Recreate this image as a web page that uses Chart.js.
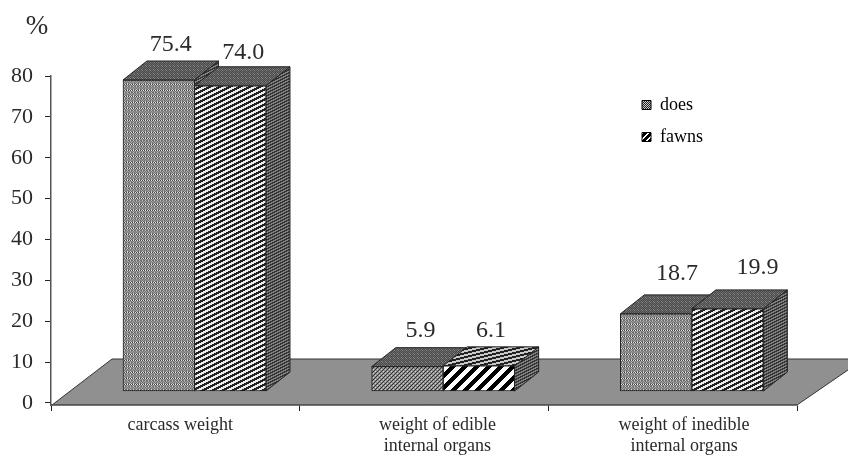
<!DOCTYPE html>
<html>
<head>
<meta charset="utf-8">
<title>Slaughter yield</title>
<script src="https://cdn.jsdelivr.net/npm/chart.js@4/dist/chart.umd.min.js"></script>
<style>
  html, body { margin: 0; padding: 0; background: #fff; }
  canvas { display: block; }
</style>
</head>
<body>
<canvas id="chart_yield" width="848" height="457"></canvas>
<script>
const categories = ['carcass weight', ['weight of edible', 'internal organs'], ['weight of inedible', 'internal organs']];
const does = [75.4, 5.9, 18.7];
const fawns = [74.0, 6.1, 19.9];
const yTicks = [0, 10, 20, 30, 40, 50, 60, 70, 80];
const valueText = [['75.4', '5.9', '18.7'], ['74.0', '6.1', '19.9']];

// where the category names sit on the 0..3 axis, they are not quite centred in the original
const labelSpots = [0.52, 1.554, 2.546];
// value label nudges from the front top centre of each bar
const labelNudge = [[[12, -35], [13, -36], [21, -40]], [[13, -33], [12, -35], [30, -41]]];

const FONT = '"Liberation Serif", "Times New Roman", serif';
const INK = '#2a2a2a';
const DEPTH_X = 24, DEPTH_Y = 19;

function tile(w, h, fn) {
    const c = document.createElement('canvas');
    c.width = w; c.height = h;
    const g = c.getContext('2d');
    for (let y = 0; y < h; y++) {
        for (let x = 0; x < w; x++) {
            g.fillStyle = fn(x, y);
            g.fillRect(x, y, 1, 1);
        }
    }
    return g.createPattern(c, 'repeat');
}
const stripes = (w, h, k, on, dark, light) => tile(w, h, (x, y) => ((x + k * y) % w < on ? dark : light));

const stipple = tile(6, 6, (x, y) => {
    if (y % 6 === 0) return x % 2 ? '#e6e6e6' : '#444';
    if (y % 3 === 2) return (x + y) % 3 ? '#707070' : '#c4c4c4';
    return (x + y) % 2 ? '#9a9a9a' : '#7a7a7a';
});
const check = tile(4, 4, (x, y) => ((x + y) % 4 === 0 ? '#333' : (x % 2 && y % 2 ? '#d4d4d4' : '#8e8e8e')));
const fineStripe = stripes(10, 5, 2, 5, '#222', '#ececec');
const wideStripe = stripes(12, 12, 1, 6, '#000', '#fff');
const topDark = tile(4, 4, (x, y) => ((x + y) % 2 ? '#4a4a4a' : ((x * y) % 3 ? '#8a8a8a' : '#6a6a6a')));
const topLines = stripes(16, 4, 4, 8, '#222', '#c8c8c8');
const sideDark = stripes(6, 3, 2, 3, '#333', '#808080');
const legendDoes = tile(2, 2, (x, y) => ((x + y) % 2 ? '#222' : '#ccc'));
const legendFawns = stripes(6, 6, 1, 2, '#fff', '#000');

const frontFill = [[stipple, check, stipple], [fineStripe, wideStripe, fineStripe]];
const topFill = [[topDark, topDark, topDark], [topDark, topLines, topDark]];

const bars3d = {
    id: 'bars3d',
    beforeDatasetsDraw(chart) {
        // grey floor the bars stand on, runs off the right of the page
        const ctx = chart.ctx, a = chart.chartArea;
        const back = a.bottom - 46;
        ctx.save();
        ctx.beginPath();
        ctx.moveTo(a.left + 1, a.bottom);
        ctx.lineTo(a.left + 61, back);
        ctx.lineTo(a.right + 67, back);
        ctx.lineTo(a.right, a.bottom);
        ctx.closePath();
        ctx.fillStyle = '#909090';
        ctx.fill();
        ctx.strokeStyle = '#333';
        ctx.lineWidth = 1;
        ctx.stroke();

        // tops and sides first, does then fawns, so each front face lands on top of them
        ctx.strokeStyle = '#222';
        [0, 1].forEach(ds => {
            chart.getDatasetMeta(ds).data.forEach((bar, i) => {
                const p = bar.getProps(['x', 'y', 'base', 'width'], true);
                const l = p.x - p.width / 2, r = p.x + p.width / 2;
                ctx.fillStyle = sideDark;
                ctx.beginPath();
                ctx.moveTo(r, p.y);
                ctx.lineTo(r, p.base);
                ctx.lineTo(r + DEPTH_X, p.base - DEPTH_Y);
                ctx.lineTo(r + DEPTH_X, p.y - DEPTH_Y);
                ctx.closePath();
                ctx.fill();
                ctx.stroke();
                ctx.fillStyle = topFill[ds][i];
                ctx.beginPath();
                ctx.moveTo(l, p.y);
                ctx.lineTo(r, p.y);
                ctx.lineTo(r + DEPTH_X, p.y - DEPTH_Y);
                ctx.lineTo(l + DEPTH_X, p.y - DEPTH_Y);
                ctx.closePath();
                ctx.fill();
                ctx.stroke();
            });
        });
        ctx.restore();
    },
    afterDatasetsDraw(chart) {
        const ctx = chart.ctx;
        ctx.save();
        ctx.fillStyle = INK;
        ctx.textAlign = 'center';
        ctx.textBaseline = 'middle';
        ctx.font = '24px ' + FONT;
        valueText.forEach((texts, ds) => {
            chart.getDatasetMeta(ds).data.forEach((bar, i) => {
                ctx.fillText(texts[i], bar.x + labelNudge[ds][i][0], bar.y + labelNudge[ds][i][1]);
            });
        });
        ctx.font = '27px ' + FONT;
        ctx.fillText('%', 37, 27);
        ctx.restore();
    },
    afterLayout(chart) {
        // legend floats inside the plot, right of the tall bars
        chart.legend.left = 628;
        chart.legend.top = 82;
        chart.legend.adjustHitBoxes();
    }
};

var chart_yield = new Chart(document.getElementById('chart_yield'), {
    type: 'bar',
    data: {
        datasets: [
            {
                label: 'does',
                data: does.map((v, i) => ({ x: i, y: v })),
                backgroundColor: frontFill[0],
                borderColor: '#222',
                borderWidth: 1,
                borderSkipped: false,
                barThickness: 71.5,
                xAxisID: 'xBar',
                yAxisID: 'yBar'
            },
            {
                label: 'fawns',
                data: fawns.map((v, i) => ({ x: i, y: v })),
                backgroundColor: frontFill[1],
                borderColor: '#222',
                borderWidth: 1,
                borderSkipped: false,
                barThickness: 71.5,
                xAxisID: 'xBar',
                yAxisID: 'yBar'
            }
        ]
    },
    options: {
        animation: false,
        responsive: false,
        events: [],
        layout: { padding: { top: 76, right: 51, left: 0, bottom: 0 } },
        plugins: {
            tooltip: { enabled: false },
            legend: {
                position: 'chartArea',
                align: 'start',
                labels: {
                    boxWidth: 9,
                    boxHeight: 9,
                    padding: 14,
                    color: INK,
                    font: { family: FONT, size: 18 },
                    generateLabels: () => [
                        { text: 'does', fillStyle: legendDoes, strokeStyle: '#000', lineWidth: 1, datasetIndex: 0 },
                        { text: 'fawns', fillStyle: legendFawns, strokeStyle: '#000', lineWidth: 1, datasetIndex: 1 }
                    ]
                }
            }
        },
        scales: {
            x: {
                type: 'linear',
                axis: 'x',
                position: 'bottom',
                min: 0,
                max: 3,
                offset: false,
                weight: 0,
                grid: { drawOnChartArea: false, offset: false, tickLength: 6, color: '#222', tickColor: '#222' },
                border: { color: '#555', width: 1.5, z: 1 },
                ticks: { display: false, stepSize: 1 },
                afterFit: s => { s.height = 8; }
            },
            xLab: {
                type: 'linear',
                axis: 'x',
                position: 'bottom',
                min: 0,
                max: 3,
                offset: false,
                weight: 1,
                grid: { display: false, drawTicks: false, offset: false },
                border: { display: false },
                afterBuildTicks: s => { s.ticks = labelSpots.map(v => ({ value: v })); },
                afterFit: s => { s.height = 44; },
                ticks: {
                    autoSkip: false,
                    maxRotation: 0,
                    padding: 1,
                    color: INK,
                    font: { family: FONT, size: 18, lineHeight: 1.2 },
                    callback: (v, i) => categories[i]
                }
            },
            xBar: {
                type: 'linear',
                axis: 'x',
                display: false,
                offset: false,
                min: -0.577,
                max: 2.423
            },
            y: {
                type: 'linear',
                axis: 'y',
                min: -0.5,
                max: 80,
                grid: { drawOnChartArea: false, tickLength: 6, color: '#222', tickColor: '#222' },
                border: { color: '#555', width: 1.5, z: 1 },
                afterBuildTicks: s => { s.ticks = yTicks.map(v => ({ value: v })); },
                afterFit: s => { s.width = 51; },
                ticks: {
                    padding: 12,
                    color: INK,
                    font: { family: FONT, size: 22 }
                }
            },
            yBar: {
                type: 'linear',
                axis: 'y',
                display: false,
                beginAtZero: false,
                min: -3.39,
                max: 76.37
            }
        }
    },
    plugins: [bars3d]
});
</script>
</body>
</html>
